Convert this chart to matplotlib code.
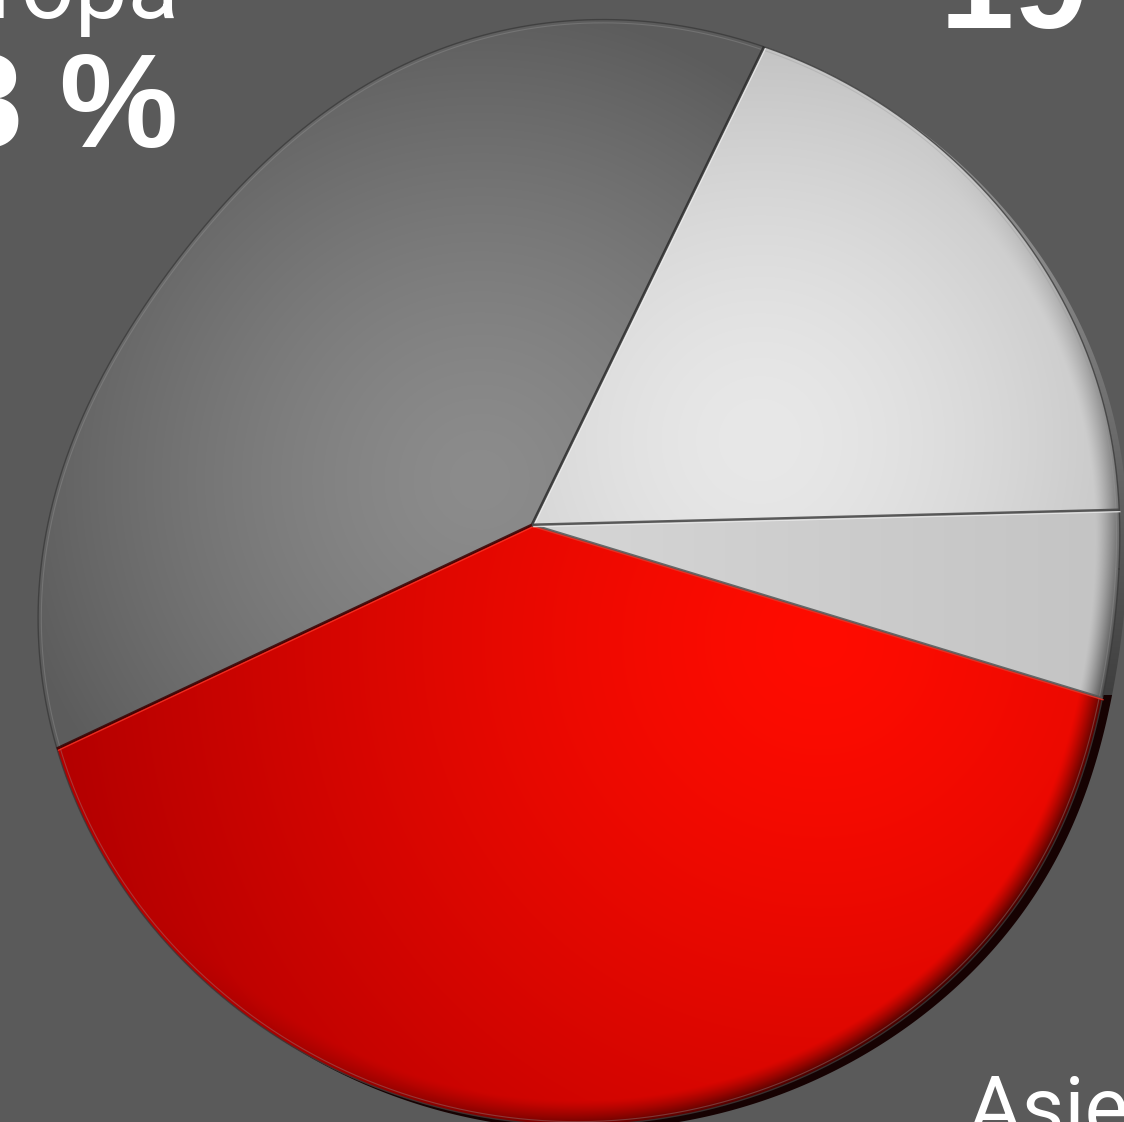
import numpy as np
import matplotlib
matplotlib.use("Agg")
import matplotlib.pyplot as plt
from matplotlib.patches import Polygon

# ---------------- data ----------------
slice_names = ["Europa", "Asie", "Segment C", "Segment D"]
slice_shares = [39.2, 38.3, 5.1, 17.4]          # share of the turn
start_angle = 64.1                               # degrees, counter-clockwise
label_names = ["Europa", "Asie"]
label_values = ["38 %", "19 %"]

# ---------------- geometry / style ----------------
W, H = 1124, 1122
BG = "#5a5a5a"
SHAPE_C = np.array([577.0, 569.0])    # centre of the disc outline
R_BASE = 556.0                        # outline radius
DENTS = [(217.0, 51.0, 38.0), (8.0, 16.0, 22.0)]   # perspective flattening (angle, depth, width)
APEX = np.array([532.0, 525.0])       # where the slices meet (perspective)
RIM_OFFSET = np.array([8.0, 5.0])     # visible thickness of the disc

fig = plt.figure(figsize=(W / 100, H / 100), dpi=100)
fig.patch.set_facecolor(BG)
ax = fig.add_axes([0, 0, 1, 1])
ax.set_xlim(0, W)
ax.set_ylim(H, 0)
ax.axis("off")
ax.set_facecolor(BG)

yy, xx = np.mgrid[0:H, 0:W].astype(float) + 0.5


def hex2rgb(h):
    h = h.lstrip("#")
    return np.array([int(h[i:i + 2], 16) / 255 for i in (0, 2, 4)])


def lerp_img(c0, c1, t):
    t = np.clip(t, 0, 1)[..., None]
    return hex2rgb(c0) * (1 - t) + hex2rgb(c1) * t


def shape_r(theta_deg):
    theta_deg = np.asarray(theta_deg, dtype=float)
    r = np.full(theta_deg.shape, R_BASE)
    for c, depth, w in DENTS:
        diff = (theta_deg - c + 180.0) % 360.0 - 180.0
        r = r - depth * np.exp(-(diff / w) ** 2)
    return r


def outline_pts(center, n=1441):
    th = np.linspace(0, 360, n)
    r = shape_r(th)
    return center + np.column_stack([r * np.cos(np.radians(th)), r * np.sin(np.radians(th))])


def rim_points(phis_deg):
    ph = np.radians(np.atleast_1d(phis_deg))
    d = np.column_stack([np.cos(ph), -np.sin(ph)])
    t = np.linspace(0, 900, 3601)
    px = APEX[0] + d[:, :1] * t[None, :] - SHAPE_C[0]
    py = APEX[1] + d[:, 1:] * t[None, :] - SHAPE_C[1]
    th = np.degrees(np.arctan2(py, px)) % 360
    outside = np.hypot(px, py) > shape_r(th)
    idx = np.argmax(outside, axis=1)
    tt = t[idx]
    return APEX + d * tt[:, None]


def wedge_poly(a0, a1):
    n = max(8, int(abs(a1 - a0) * 3))
    return np.vstack([APEX, rim_points(np.linspace(a0, a1, n))])


def dist(px, py):
    return np.hypot(xx - px, yy - py)


# relative radius of each pixel inside the outline (for bevel shading)
rel_x, rel_y = xx - SHAPE_C[0], yy - SHAPE_C[1]
rho = np.hypot(rel_x, rel_y) / shape_r(np.degrees(np.arctan2(rel_y, rel_x)) % 360)
ang = np.arctan2(-(yy - APEX[1]), xx - APEX[0])
se_weight = np.clip(np.cos(ang - np.radians(-45)), 0, 1) ** 1.5
bevel = np.clip((rho - 0.955) / 0.045, 0, 1) ** 1.3 * se_weight
shade = (1 - 0.75 * bevel)[..., None]

# colour fields for each slice
fills = [
    lerp_img("#8c8c8c", "#5c5c5c", (dist(480, 480) / 480) ** 1.4),                # Europa (dark grey)
    lerp_img("#ff0c00", "#b20000", (dist(820, 640) / 780) ** 1.3),                # Asie (red)
    lerp_img("#d4d4d4", "#c4c4c4", (xx - 600) / 500),                              # small light slice
    lerp_img("#e8e8e8", "#bcbcbc", (dist(760, 440) / 440) ** 1.6),                 # top-right light slice
]

# 3D rim / thickness under the disc
rim_img = np.where((yy < 695)[..., None],
                   lerp_img("#8a8a8a", "#3e3e3e", (yy - 250) / 450),
                   hex2rgb("#160202"))
rim_patch = Polygon(outline_pts(SHAPE_C + RIM_OFFSET), closed=True, facecolor="none",
                    edgecolor="none")
ax.add_patch(rim_patch)
im = ax.imshow(rim_img, extent=(0, W, H, 0), zorder=1, interpolation="bilinear")
im.set_clip_path(rim_patch)

# slices
angles = [start_angle]
for s in slice_shares:
    angles.append(angles[-1] + s * 3.6)

for i, share in enumerate(slice_shares):
    poly = wedge_poly(angles[i], angles[i + 1])
    patch = Polygon(poly, closed=True, facecolor="none", edgecolor="none")
    ax.add_patch(patch)
    im = ax.imshow(np.clip(fills[i] * shade, 0, 1), extent=(0, W, H, 0), zorder=2,
                   interpolation="bilinear")
    im.set_clip_path(patch)

# outer edge of the disc
outline = outline_pts(SHAPE_C)
ax.plot(outline[:, 0], outline[:, 1], color="#3a3a3a", lw=1.0, alpha=0.8, zorder=3)
inner = SHAPE_C + (outline - SHAPE_C) * 0.994
ax.plot(inner[:, 0], inner[:, 1], color="#9a9a9a", lw=0.8, alpha=0.35, zorder=3)

# slice boundaries
edge_styles = [("#2c2c2c", "#f4f4f4"), ("#3a0000", "#ff3a2a"),
               ("#555555", "#ff3020"), ("#444444", "#f6f6f6")]
for i in range(len(slice_shares)):
    p = rim_points(angles[i])[0]
    dark, light = edge_styles[i]
    ax.plot([APEX[0], p[0]], [APEX[1], p[1]], color=dark, lw=2.2, alpha=0.85, zorder=4,
            solid_capstyle="butt")
    ax.plot([APEX[0] + 1.2, p[0] + 1.2], [APEX[1] + 1.6, p[1] + 1.6], color=light,
            lw=1.0, alpha=0.75, zorder=4, solid_capstyle="butt")

# labels
light_font = dict(family=["Roboto", "DejaVu Sans"], weight="normal", color="white")
bold_font = dict(family=["Liberation Sans", "DejaVu Sans"], weight="bold", color="white")
ax.text(179, 18, label_names[0], ha="right", va="baseline", fontsize=68, zorder=6, **light_font)
ax.text(178, 147, label_values[0], ha="right", va="baseline", fontsize=96, zorder=6, **bold_font)
ax.text(940, 28, label_values[1], ha="left", va="baseline", fontsize=96, zorder=6, **bold_font)
ax.text(968, 1136, label_names[1], ha="left", va="baseline", fontsize=60, zorder=6, **light_font)

fig.savefig("out.png", dpi=100, facecolor=BG)
